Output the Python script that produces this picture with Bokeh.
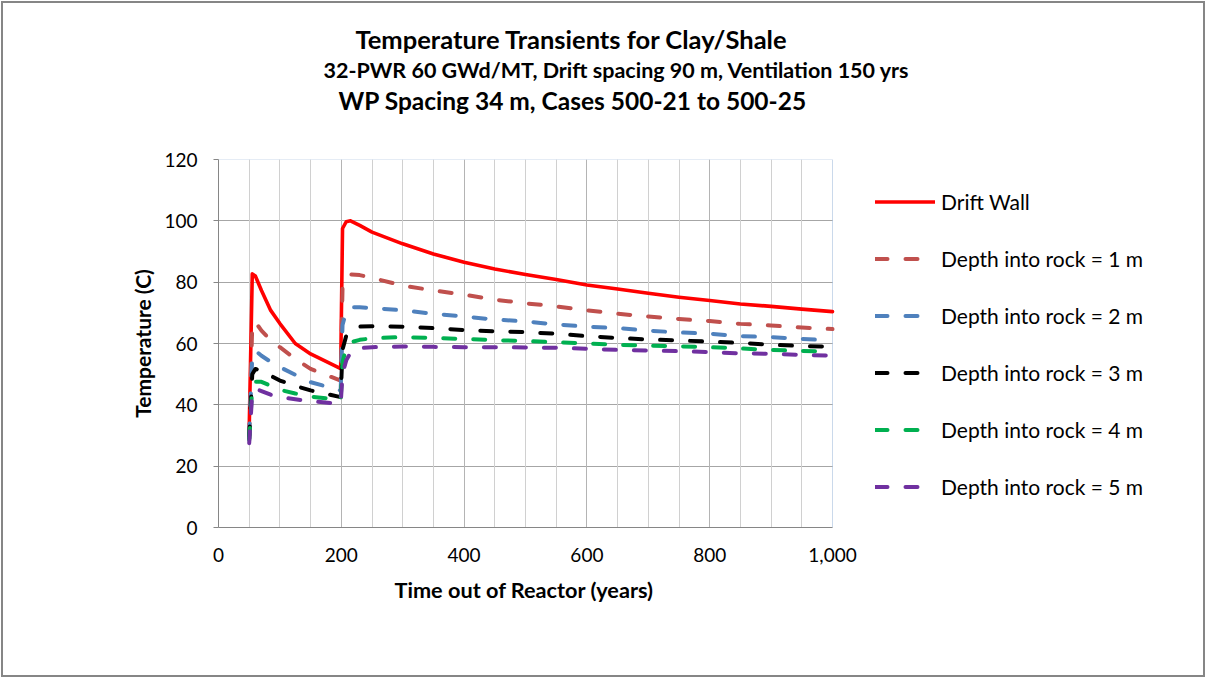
from bokeh.plotting import figure
from bokeh.models import (Range1d, FixedTicker, NumeralTickFormatter, Title,
                          Legend, LegendItem, Grid, ColumnDataSource, BoxAnnotation,
                          InlineStyleSheet)
from bokeh.embed import file_html
from bokeh.resources import INLINE

# Years out of reactor at which temperatures are tabulated
years = [50, 55, 60, 70, 85, 100, 125, 150, 199, 202, 208, 215, 230, 250, 300,
         350, 400, 450, 500, 550, 600, 650, 700, 750, 800, 850, 900, 950, 1000]

# Temperatures (C)
drift_wall = [32, 82.7, 82.0, 77.3, 70.8, 66.5, 60.0, 56.6, 51.8, 97.5, 99.7, 100.0, 98.5, 96.3, 92.5,
              89.2, 86.5, 84.3, 82.5, 80.9, 79.1, 77.8, 76.4, 75.1, 74.0, 72.9, 72.1, 71.2, 70.4]
depth_1m = [30, 66.0, 67.0, 64.2, 61.0, 58.8, 55.0, 51.7, 47.9, 78.0, 81.5, 82.5, 82.3, 81.4, 78.9,
            77.3, 75.9, 74.3, 73.1, 72.1, 70.8, 69.7, 68.8, 68.0, 67.3, 66.4, 65.9, 65.2, 64.7]
depth_2m = [30, 56.0, 57.7, 56.0, 54.0, 52.3, 49.8, 47.4, 44.7, 66.0, 70.5, 71.8, 71.8, 71.6, 70.8,
            69.7, 68.8, 67.8, 67.2, 66.2, 65.5, 65.0, 64.2, 63.6, 63.2, 62.4, 62.1, 61.5, 61.0]
depth_3m = [29, 50.0, 51.7, 51.0, 49.5, 47.9, 46.2, 44.7, 42.5, 58.0, 62.5, 64.0, 65.5, 65.6, 65.5,
            65.0, 64.4, 64.0, 63.7, 63.2, 62.4, 61.8, 61.3, 61.0, 60.6, 60.2, 59.6, 59.2, 58.9]
depth_4m = [28.5, 46.0, 47.5, 47.5, 46.2, 44.9, 43.7, 42.7, 41.6, 54.0, 58.5, 60.4, 61.2, 61.7, 62.1,
            61.8, 61.5, 61.1, 60.8, 60.4, 60.0, 59.6, 59.3, 59.1, 58.8, 58.4, 57.9, 57.6, 57.3]
depth_5m = [27.5, 44.0, 45.2, 44.5, 43.3, 42.5, 41.8, 41.2, 40.3, 50.0, 54.5, 57.0, 58.5, 58.8, 59.0,
            58.9, 58.8, 58.8, 58.7, 58.6, 58.3, 57.9, 57.7, 57.5, 57.2, 56.8, 56.6, 56.3, 56.0]

series = [
    ("Drift Wall", drift_wall, "#FF0000", "solid"),
    ("Depth into rock = 1 m", depth_1m, "#C0504D", "12 18"),
    ("Depth into rock = 2 m", depth_2m, "#4F81BD", "12 18"),
    ("Depth into rock = 3 m", depth_3m, "#000000", "12 18"),
    ("Depth into rock = 4 m", depth_4m, "#00B050", "12 18"),
    ("Depth into rock = 5 m", depth_5m, "#7030A0", "12 18"),
]

x_ticks = [0, 200, 400, 600, 800, 1000]
y_ticks = [0, 20, 40, 60, 80, 100, 120]
x_minor = [50, 100, 150, 250, 300, 350, 450, 500, 550, 650, 700, 750, 850, 900, 950]

title_lines = [
    "Temperature Transients for Clay/Shale",
    "32-PWR 60 GWd/MT, Drift spacing  90 m, Ventilation 150 yrs",
    "WP Spacing 34 m, Cases 500-21 to 500-25",
]
x_title = "Time out of Reactor (years)"
y_title = "Temperature (C)"

FONT = "Lato"
W, H = 1207, 677
FL, FR, FT, FB = 218, 832, 159, 527   # plot-area edges on the canvas
X_MAX, Y_MAX = 1000, 120
# the frame runs on to the right edge so the legend can sit beside the plot area
x_end = X_MAX * (W - FL) / (FR - FL)

p = figure(width=W, height=H, output_backend="svg", toolbar_location=None,
           x_range=Range1d(0, x_end), y_range=Range1d(0, Y_MAX),
           min_border_left=FL, min_border_right=0,
           min_border_top=FT, min_border_bottom=H - FB)

p.background_fill_color = "white"
p.border_fill_color = "white"
p.outline_line_color = None
# thin grey frame around the whole chart
p.stylesheets = [InlineStyleSheet(css=(
    ":host::after { content: ''; position: absolute; left: 1px; top: 1px; right: 2px; bottom: 0px;"
    " border: 2px solid #868686; pointer-events: none; z-index: 10; }"))]

# Axes
p.xaxis.ticker = FixedTicker(ticks=x_ticks)
p.xaxis.formatter = NumeralTickFormatter(format="0,0")
p.xaxis.bounds = (0, X_MAX)
p.yaxis.ticker = FixedTicker(ticks=y_ticks)
p.yaxis.bounds = (0, Y_MAX)
for ax in (p.xaxis[0], p.yaxis[0]):
    ax.axis_line_color = "#868686"
    ax.major_tick_line_color = "#868686"
    ax.minor_tick_line_color = None
    ax.major_label_text_font = FONT
    ax.major_label_text_font_size = "19px"
    ax.major_label_text_color = "#000000"
    ax.axis_label_text_font = FONT
    ax.axis_label_text_font_size = "21px"
    ax.axis_label_text_font_style = "bold"
    ax.axis_label_text_color = "#000000"
p.xaxis.major_tick_out = 0
p.xaxis.major_tick_in = 0
p.xaxis.major_label_standoff = 20
p.yaxis.major_tick_out = 5
p.yaxis.major_tick_in = 0
p.yaxis.major_label_standoff = 16
p.yaxis.axis_label = y_title
p.yaxis.axis_label_standoff = 6

# Grid: light lines every 50 years, horizontal lines every 20 C
p.xgrid.grid_line_color = None
p.ygrid.grid_line_color = "#A6A6A6"
p.ygrid.grid_line_width = 1
p.add_layout(Grid(dimension=0, ticker=FixedTicker(ticks=x_minor),
                  grid_line_color="#D0D0D0", grid_line_width=1))
p.add_layout(Grid(dimension=0, ticker=FixedTicker(ticks=x_ticks[1:-1]),
                  grid_line_color="#B4B4B4", grid_line_width=1))
# blank out the grid beside the plot area
p.add_layout(BoxAnnotation(left=X_MAX, fill_color="white", fill_alpha=1,
                           line_color=None, level="underlay"))
# plot-area border
p.add_layout(BoxAnnotation(left=0, right=X_MAX, bottom=0, top=Y_MAX, fill_alpha=0,
                           line_color="#4F81BD", line_width=1, level="underlay"))

items = []
for name, vals, color, dash in series:
    src = ColumnDataSource(dict(x=years, y=vals))
    r = p.line("x", "y", source=src, line_color=color, line_width=4 if dash != "solid" else 3.6,
               line_dash=dash, line_cap="round", line_join="round")
    items.append(LegendItem(label=name, renderers=[r]))

legend = Legend(items=items, location=(875 - FL, 28),
                orientation="vertical", glyph_width=60, glyph_height=25,
                label_height=25, label_standoff=6, spacing=32, padding=0, margin=0,
                label_text_font=FONT, label_text_font_size="21px", label_text_color="#000000",
                border_line_color=None, background_fill_alpha=0)
p.add_layout(legend, "center")

# Title block, stacked upward from the frame: a blank spacer, then the three lines
p.add_layout(Title(text=" ", text_font=FONT, text_font_size="10px", standoff=31), "above")
title_left = [355, 323, 338]
title_size = ["25.5px", "21.5px", "24.5px"]
title_standoff = [0, 2, 0]
for text, left, size, so in reversed(list(zip(title_lines, title_left, title_size, title_standoff))):
    p.add_layout(Title(text=text, align="left", offset=left - FL, standoff=so,
                       text_font=FONT, text_font_size=size, text_font_style="bold",
                       text_color="#000000"), "above")

# x-axis title, placed under the tick labels
p.add_layout(Title(text=x_title, align="left", offset=394 - FL, standoff=21,
                   text_font=FONT, text_font_size="21.7px", text_font_style="bold",
                   text_color="#000000"), "below")

open("out.html", "w").write(file_html(p, INLINE))
